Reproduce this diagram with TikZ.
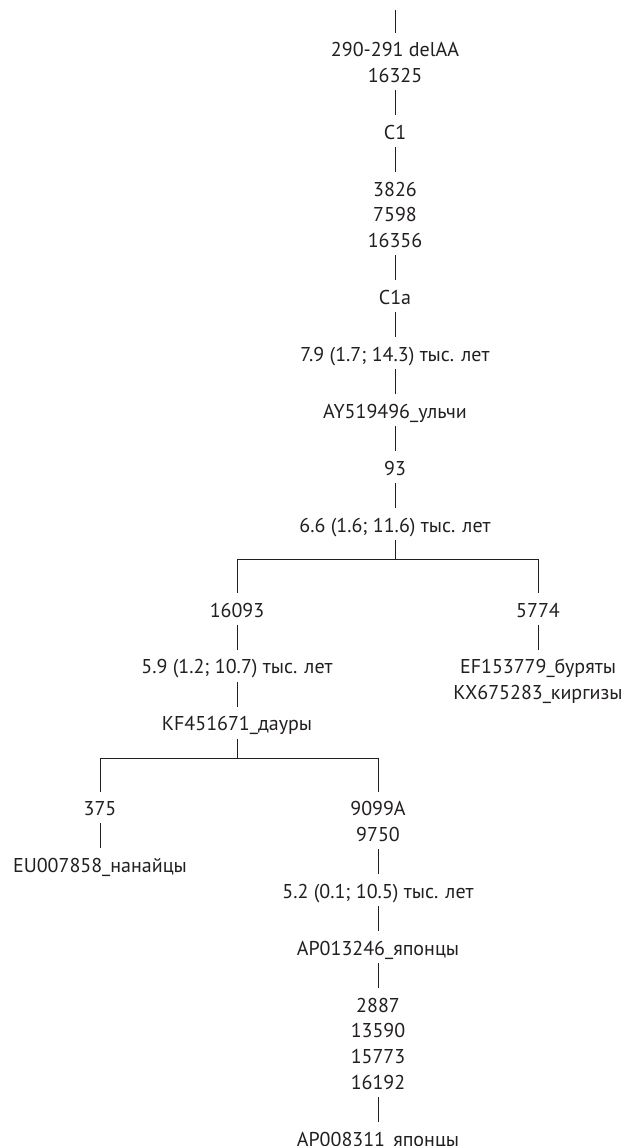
\documentclass[tikz,border=0pt]{standalone}
\usepackage{fontspec}
\setmainfont{PT Sans}
\usetikzlibrary{positioning}
\definecolor{treeink}{RGB}{35, 31, 32}
% fixed room above the first line and below the last line of a label
\newcommand{\tstrut}{\rule{0pt}{24pt}}
\newcommand{\bstrut}{\rule[-7.5pt]{0pt}{7.5pt}}
\tikzset{
    lbl/.style={inner sep=0pt, align=center, text=treeink,
        font=\fontsize{20}{25.7}\selectfont},
    link/.style={line width=1pt, draw=treeink},
}
\begin{document}
\begin{tikzpicture}[x=1pt, y=1pt, node distance=25pt]
    \useasboundingbox (0,0) rectangle (627,-1146);
    % main stem
    \coordinate (root) at (395,-10);
    \node[lbl, below=22.5pt of root] (delAA) {\tstrut 290-291 delAA\\16325\bstrut};
    \node[lbl, below=of delAA] (c1) {\tstrut C1\bstrut};
    \node[lbl, below=of c1] (m3826) {\tstrut 3826\\7598\\16356\bstrut};
    \node[lbl, below=of m3826] (c1a) {\tstrut C1a\bstrut};
    \node[lbl, below=of c1a] (t79) {\tstrut 7.9 (1.7; 14.3) тыс. лет\bstrut};
    \node[lbl, below=of t79] (ay) {\tstrut AY519496\_ульчи\bstrut};
    \node[lbl, below=of ay] (m93) {\tstrut 93\bstrut};
    \node[lbl, below=of m93] (t66) {\tstrut 6.6 (1.6; 11.6) тыс. лет\bstrut};
    \coordinate[below=20pt of t66] (br1);
    % first split
    \node[lbl, below=33pt of br1, xshift=-158pt] (m16093) {\tstrut 16093\bstrut};
    \node[lbl, below=33pt of br1, xshift=143pt] (m5774) {\tstrut 5774\bstrut};
    \node[lbl, below=of m5774] (bur) {\tstrut EF153779\_буряты\\KX675283\_киргизы\bstrut};
    \node[lbl, below=of m16093] (t59) {\tstrut 5.9 (1.2; 10.7) тыс. лет\bstrut};
    \node[lbl, below=of t59] (kf) {\tstrut KF451671\_дауры\bstrut};
    \coordinate[below=20pt of kf] (br2);
    % second split
    \node[lbl, below=33pt of br2, xshift=-137pt] (m375) {\tstrut 375\bstrut};
    \node[lbl, below=of m375] (eu) {\tstrut EU007858\_нанайцы\bstrut};
    \node[lbl, below=33pt of br2, xshift=141pt] (m9099) {\tstrut 9099A\\9750\bstrut};
    \node[lbl, below=of m9099] (t52) {\tstrut 5.2 (0.1; 10.5) тыс. лет\bstrut};
    \node[lbl, below=of t52] (ap1) {\tstrut AP013246\_японцы\bstrut};
    \node[lbl, below=of ap1] (m2887) {\tstrut 2887\\13590\\15773\\16192\bstrut};
    \node[lbl, below=of m2887] (ap2) {\tstrut AP008311\_японцы\bstrut};

    \draw[link] (root) -- (delAA);
    \foreach \a/\b in {delAA/c1, c1/m3826, m3826/c1a, c1a/t79, t79/ay, ay/m93,
        m93/t66, m5774/bur, m16093/t59, t59/kf, m375/eu, m9099/t52,
        t52/ap1, ap1/m2887, m2887/ap2}
        \draw[link] (\a) -- (\b);
    \draw[link] (t66) -- (br1);
    \draw[link] (m16093) |- (br1) -| (m5774);
    \draw[link] (kf) -- (br2);
    \draw[link] (m375) |- (br2) -| (m9099);
\end{tikzpicture}
\end{document}
